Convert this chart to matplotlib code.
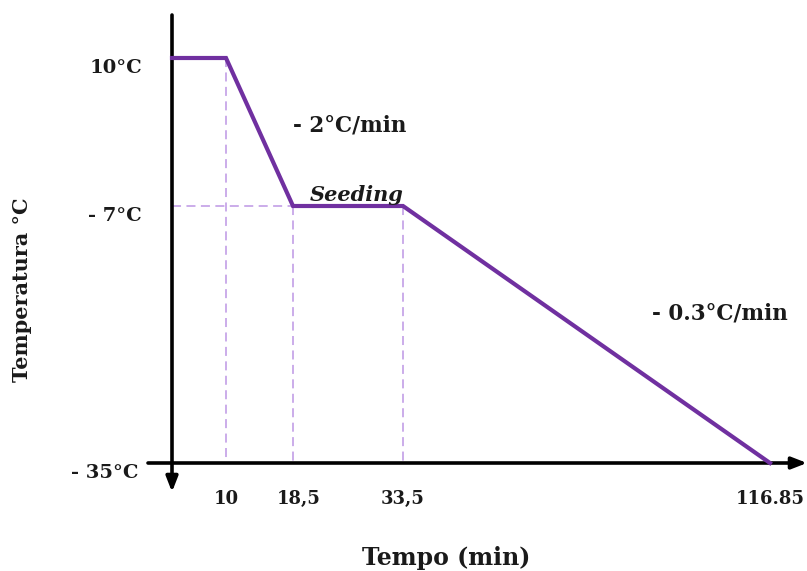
import numpy as np
import matplotlib.pyplot as plt

# perfil de temperatura (esquema)
tempo = [0, 10, 18.5, 33.5, 116.85]
temperatura = [10, 10, -7, -7, -35]
xtick_vals = [10, 18.5, 33.5, 116.85]
xtick_labels = ['10', '18,5', '33,5', '116.85']
ytick_vals = [10, -7, -35]
ytick_labels = ['10°C', '- 7°C', '- 35°C']

# escala esquematica (eixos nao proporcionais)
tx = [-100, 0, 10, 18.5, 33.5, 116.85, 300]
px = [-540, 0, 54, 121, 231, 598, 598 + 183.15 * 5.12]
ty = [-200, -35, -7, 10, 100]
py = [-165 * 9.18, 0, 257, 405, 405 + 90 * 8.7]

def fx(t):
    return np.interp(t, tx, px)
def ifx(p):
    return np.interp(p, px, tx)
def fy(t):
    return np.interp(t, ty, py)
def ify(p):
    return np.interp(p, py, ty)

W, H = 807, 571
fig = plt.figure(figsize=(W / 100, H / 100), dpi=100)
ax = fig.add_axes([0, 0, 1, 1])
ax.set_xscale('function', functions=(fx, ifx))
ax.set_yscale('function', functions=(fy, ify))
ax.set_xlim(ifx(-172), ifx(W - 172))
ax.set_ylim(ify(463 - H), ify(463))
ax.axis('off')

font = dict(family='DejaVu Serif', weight='bold', color='#1a1a1a')
purple = '#7030A0'
light = '#C7A6E8'

# linhas auxiliares tracejadas
ax.plot([10, 10], [10, -35], color=light, ls=(0, (5, 3)), lw=1.3)
ax.plot([18.5, 18.5], [-7, -35], color=light, ls=(0, (5, 3)), lw=1.3)
ax.plot([33.5, 33.5], [-7, -35], color=light, ls=(0, (5, 3)), lw=1.3)
ax.plot([0, 18.5], [-7, -7], color=light, ls=(0, (5, 3)), lw=1.3)

# eixos com setas
ax.annotate('', xy=(172 / W, 1 - 492 / H), xytext=(172 / W, 1 - 15 / H),
            xycoords='axes fraction',
            arrowprops=dict(arrowstyle='-|>,head_length=0.9,head_width=0.35',
                            color='black', lw=2.6, shrinkA=0, shrinkB=0))
ax.annotate('', xy=(1.0, 1 - 463 / H), xytext=(148 / W, 1 - 463 / H),
            xycoords='axes fraction',
            arrowprops=dict(arrowstyle='-|>,head_length=0.9,head_width=0.35',
                            color='black', lw=2.6, shrinkA=0, shrinkB=0))

ax.plot(tempo, temperatura, color=purple, lw=3, solid_joinstyle='miter', zorder=3)

# rotulos dos eixos
for v, lab in zip(ytick_vals, ytick_labels):
    dx = -34 if lab == '- 35°C' else -30
    ax.annotate(lab, (0, v), xytext=(dx, -10), textcoords='offset pixels',
                ha='right', va='center', fontsize=14, **font)
for v, lab in zip(xtick_vals, xtick_labels):
    dx = 6 if lab == '18,5' else 0
    ha = 'center'
    if lab == '116.85':
        dx, ha = 35, 'right'
    ax.annotate(lab, (v, -35), xytext=(dx, -36), textcoords='offset pixels',
                ha=ha, va='center', fontsize=13, **font)

fig.text(446 / W, 1 - 558 / H, 'Tempo (min)', ha='center', va='center',
         fontsize=17, **font)
fig.text(22 / W, 1 - 290 / H, 'Temperatura °C', ha='center', va='center',
         rotation=90, fontsize=15, **font)

fig.text(293 / W, 1 - 126 / H, '- 2°C/min', ha='left', va='center',
         fontsize=15.5, **font)
fig.text(652 / W, 1 - 313 / H, '- 0.3°C/min', ha='left', va='center',
         fontsize=15.5, **font)
fig.text(310 / W, 1 - 195 / H, 'Seeding', ha='left', va='center',
         fontsize=15, style='italic', **font)

fig.savefig('out.png', dpi=100)
